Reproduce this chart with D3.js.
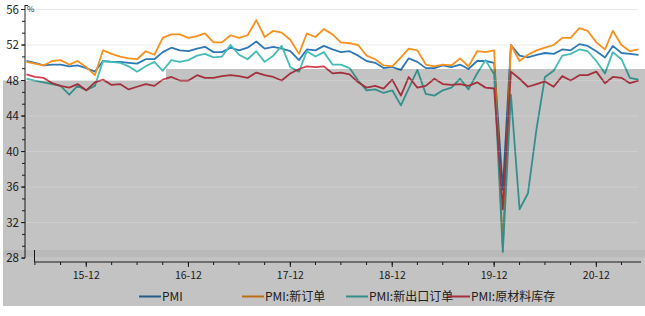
<!DOCTYPE html>
<html>
<head>
<meta charset="utf-8">
<script src="https://cdn.jsdelivr.net/npm/d3@7"></script>
<style>
body { margin: 0; background: #fff; }
text { font-family: "Noto Sans CJK SC", "Liberation Sans", sans-serif; fill: #2a2a2a; }
</style>
</head>
<body>
<svg id="chart" width="645" height="316"></svg>
<script>
// monthly data, 2015-06 .. 2021-06
const pmi = [50.2,50.0,49.7,49.8,49.8,49.6,49.7,
  49.4,49.0,50.2,50.1,50.1,50.0,49.9,50.4,50.4,51.2,51.7,51.4,
  51.3,51.6,51.8,51.2,51.2,51.7,51.4,51.7,52.4,51.6,51.8,51.6,
  51.3,50.3,51.5,51.4,51.9,51.5,51.2,51.3,50.8,50.2,50.0,49.4,
  49.5,49.2,50.5,50.1,49.4,49.4,49.7,49.5,49.8,49.3,50.2,50.2,
  50.0,35.7,52.0,50.8,50.6,50.9,51.1,51.0,51.5,51.4,52.1,51.9,
  51.3,50.6,51.9,51.1,51.0,50.9];
const newOrders = [50.1,49.9,49.7,50.2,50.3,49.8,50.2,
  49.5,48.6,51.4,51.0,50.7,50.5,50.4,51.3,50.9,52.8,53.2,53.2,
  52.8,53.0,53.3,52.3,52.3,53.1,52.8,53.1,54.8,52.9,53.6,53.4,
  52.6,51.0,53.3,52.9,53.8,53.2,52.3,52.2,52.0,50.8,50.4,49.7,
  49.6,50.6,51.6,51.4,49.8,49.6,49.8,49.7,50.5,49.6,51.3,51.2,
  51.4,29.3,52.0,50.2,50.9,51.4,51.7,52.0,52.8,52.8,53.9,53.6,
  52.3,51.5,53.6,52.0,51.3,51.5];
const exportOrders = [48.2,48.0,47.8,47.6,47.4,46.4,47.4,
  46.9,47.4,50.2,50.1,50.0,49.6,49.0,49.6,50.1,49.1,50.3,50.1,
  50.3,50.8,51.0,50.6,50.7,52.0,50.9,50.4,51.3,50.1,50.8,51.9,
  49.5,49.0,51.3,50.7,51.2,49.8,49.8,49.4,48.0,46.9,47.0,46.6,
  46.9,45.2,47.1,49.2,46.5,46.3,46.9,47.2,48.2,47.0,48.8,50.3,
  48.7,28.7,46.4,33.5,35.3,42.6,48.4,49.1,50.8,51.0,51.5,51.3,
  50.2,48.8,51.2,50.4,48.3,48.1];
const rawStock = [48.7,48.4,48.3,47.7,47.4,47.2,47.6,
  46.9,47.8,48.1,47.5,47.6,47.0,47.3,47.6,47.4,48.1,48.4,48.0,
  48.0,48.6,48.3,48.3,48.5,48.6,48.5,48.3,48.9,48.6,48.4,48.0,
  48.8,49.3,49.6,49.5,49.6,48.8,48.9,48.7,47.8,47.2,47.4,47.1,
  48.1,46.3,48.4,47.2,47.4,48.2,47.6,47.5,47.6,47.4,47.8,47.2,
  47.1,33.5,49.0,48.2,47.3,47.6,47.9,47.3,48.5,48.0,48.6,48.6,
  49.0,47.7,48.4,48.3,47.7,48.0];
const seriesNames = ["PMI", "PMI:新订单", "PMI:新出口订单", "PMI:原材料库存"];
const seriesColors = ["#2f78b4", "#f6901e", "#45bcb5", "#d5404f"];
const yTicks = [28, 32, 36, 40, 44, 48, 52, 56];
const xTickLabels = ["15-12", "16-12", "17-12", "18-12", "19-12", "20-12"];

const svg = d3.select("#chart");
const dates = pmi.map((d, i) => new Date(2015, 5 + i, 1));
const series = [pmi, newOrders, exportOrders, rawStock];

const x = d3.scaleTime()
  .domain([dates[0], dates[dates.length - 1]])
  .range([26.5, 638.5]);
const y = d3.scaleLinear().domain([28, 56]).range([258.1, 9.5]);

// grid lines (upper ones sit in the white area)
svg.append("g").selectAll("line")
  .data(yTicks.filter(v => v > 50))
  .enter().append("line")
  .attr("x1", 25).attr("x2", 638)
  .attr("y1", d => y(d)).attr("y2", d => y(d))
  .attr("stroke", "#e9e9e9");

// y axis
const yAxis = svg.append("g").attr("transform", "translate(25,0)");
yAxis.append("line").attr("x1", 0).attr("x2", 0).attr("y1", 5).attr("y2", 258).attr("stroke", "#222");
yAxis.append("line").attr("x1", 0).attr("x2", 3).attr("y1", 5.5).attr("y2", 5.5).attr("stroke", "#222");
yAxis.selectAll(".minor")
  .data(d3.range(28, 56.01, 4 / 3))
  .enter().append("line")
  .attr("x1", -3).attr("x2", 0)
  .attr("y1", d => y(d)).attr("y2", d => y(d))
  .attr("stroke", "#222");
yAxis.selectAll(".major")
  .data(yTicks)
  .enter().append("line")
  .attr("x1", -4).attr("x2", 0)
  .attr("y1", d => y(d)).attr("y2", d => y(d))
  .attr("stroke", "#222");
yAxis.selectAll("text")
  .data(yTicks)
  .enter().append("text")
  .attr("x", -6).attr("y", d => y(d)).attr("dy", "0.36em")
  .attr("text-anchor", "end").attr("font-size", 11.5)
  .text(d => d);
svg.append("text").attr("x", 27).attr("y", 12).attr("font-size", 8).text("%");

// series lines
const line = d3.line()
  .x((d, i) => x(dates[i]))
  .y(d => y(d));
svg.append("g").selectAll("path")
  .data(series)
  .enter().append("path")
  .attr("d", line)
  .attr("fill", "none")
  .attr("stroke", (d, i) => seriesColors[i])
  .attr("stroke-width", 1.8)
  .attr("stroke-linejoin", "round");

// x axis
const xAxis = svg.append("g");
xAxis.append("line").attr("x1", 34.5).attr("x2", 34.5).attr("y1", 250).attr("y2", 262).attr("stroke", "#222");
xAxis.append("line").attr("x1", 34.5).attr("x2", 641).attr("y1", 262).attr("y2", 262).attr("stroke", "#222");
xAxis.selectAll(".minor")
  .data(d3.timeMonths(new Date(2015, 6, 1), new Date(2021, 6, 1), 3))
  .enter().append("line")
  .attr("x1", d => x(d)).attr("x2", d => x(d))
  .attr("y1", 262).attr("y2", 265)
  .attr("stroke", "#222");
const majorDates = xTickLabels.map(s => new Date(2001 + +s.slice(0, 2), 0, 1));
xAxis.selectAll(".major")
  .data(majorDates)
  .enter().append("line")
  .attr("x1", d => x(d)).attr("x2", d => x(d))
  .attr("y1", 262).attr("y2", 267)
  .attr("stroke", "#222");
xAxis.selectAll("text")
  .data(majorDates)
  .enter().append("text")
  .attr("x", d => x(d)).attr("y", 279)
  .attr("text-anchor", "middle").attr("font-size", 10.5)
  .text((d, i) => xTickLabels[i]);

// legend
const legendX = [139, 242, 346, 448];
const legend = svg.append("g").selectAll("g")
  .data(seriesNames)
  .enter().append("g")
  .attr("transform", (d, i) => `translate(${legendX[i]},296.5)`);
legend.append("line").attr("x1", 0).attr("x2", 22)
  .attr("stroke", (d, i) => seriesColors[i]).attr("stroke-width", 2);
legend.append("text").attr("x", 23).attr("dy", "0.36em")
  .attr("font-size", 12).text(d => d);

// grey screen overlay
svg.append("path")
  .attr("d", "M3,80.5H166V69H645V306H3Z")
  .attr("fill", "#000").attr("opacity", 0.235);
svg.append("rect").attr("x", 3).attr("y", 250).attr("width", 642).attr("height", 7)
  .attr("fill", "#000").attr("opacity", 0.05);
svg.append("g").selectAll("line")
  .data(yTicks.filter(v => v < 50 && v > 28))
  .enter().append("line")
  .attr("x1", 26).attr("x2", 638)
  .attr("y1", d => y(d)).attr("y2", d => y(d))
  .attr("stroke", "#fff").attr("opacity", 0.18);
</script>
</body>
</html>
